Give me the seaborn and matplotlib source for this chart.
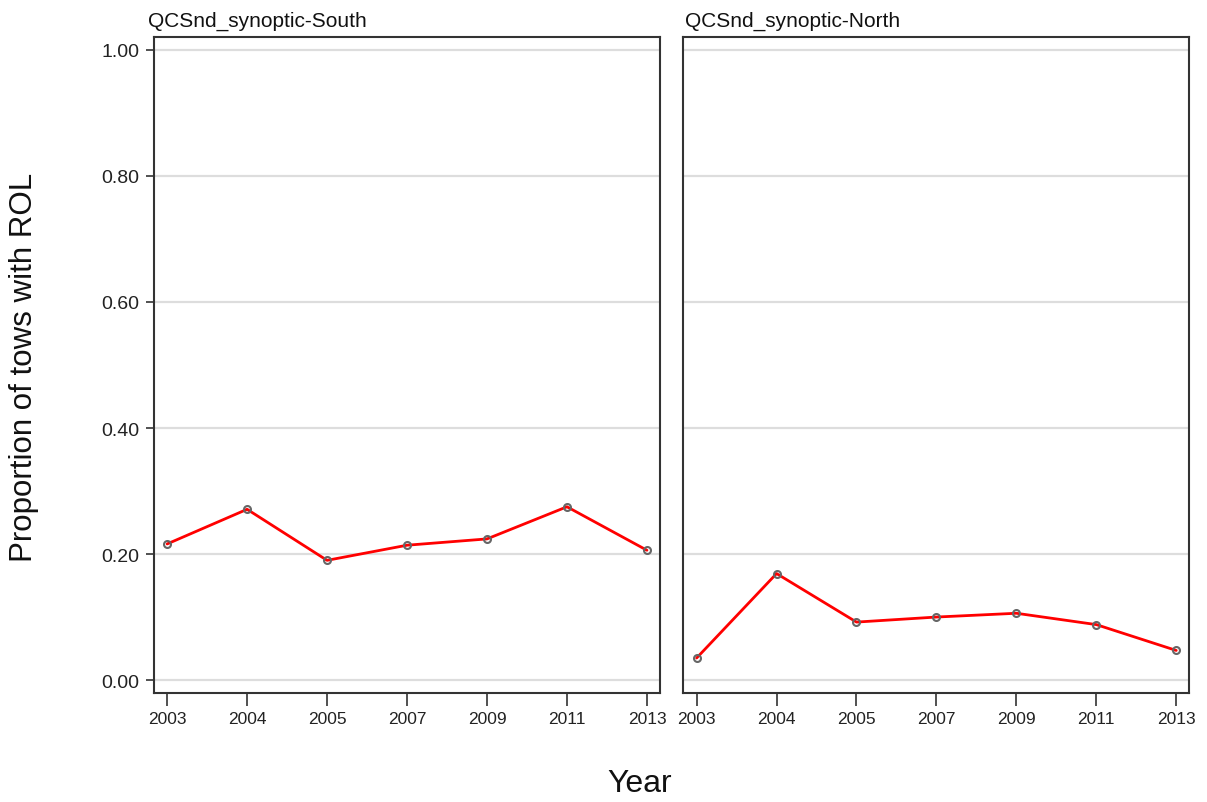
import matplotlib
matplotlib.use("Agg")
import matplotlib.pyplot as plt
import seaborn as sns
import pandas as pd

years = ["2003", "2004", "2005", "2007", "2009", "2011", "2013"]
south = [0.216, 0.271, 0.190, 0.214, 0.224, 0.275, 0.206]
north = [0.035, 0.169, 0.092, 0.100, 0.106, 0.088, 0.047]
panels = ["QCSnd_synoptic-South", "QCSnd_synoptic-North"]
yticks = [0.0, 0.2, 0.4, 0.6, 0.8, 1.0]

sns.set_theme(style="white")
plt.rcParams["font.family"] = ["Liberation Sans", "DejaVu Sans"]

fig = plt.figure(figsize=(12.07, 8.03), dpi=100)
ax_pos = [[0.1272, 0.1357, 0.4194, 0.817], [0.5659, 0.1357, 0.4192, 0.817]]

for i, (name, vals) in enumerate(zip(panels, [south, north])):
    ax = fig.add_axes(ax_pos[i])
    df = pd.DataFrame({"Year": years, "prop": vals})
    for yv in yticks:
        ax.axhline(yv, color="#dddddd", lw=1.6, zorder=0)
    sns.lineplot(data=df, x="Year", y="prop", sort=False, ax=ax, color="red",
                 lw=2.0, marker="o", markersize=5, markerfacecolor="none",
                 markeredgecolor="#666666", markeredgewidth=1.5, zorder=3)
    ax.set_xlim(-0.17, 6.16)
    ax.set_ylim(-0.0206, 1.0206)
    ax.set_xticks(range(len(years)))
    ax.set_xticklabels(years, fontsize=12.5)
    ax.set_xlabel("")
    ax.set_ylabel("")
    for s in ax.spines.values():
        s.set_color("#333333")
        s.set_linewidth(1.5)
    ax.tick_params(axis="x", bottom=True, length=9, width=1.2, color="#333333",
                   pad=4, labelcolor="#222222")
    if i == 0:
        ax.set_yticks(yticks)
        ax.set_yticklabels([f"{v:.2f}" for v in yticks], fontsize=14)
        ax.tick_params(axis="y", left=True, length=6, width=1.2, color="#333333",
                       pad=4, labelcolor="#222222")
    else:
        ax.set_yticks(yticks)
        ax.set_yticklabels([])
        ax.tick_params(axis="y", left=False)
    ax.grid(False)
    x0 = ax_pos[i][0] - (0.0045 if i == 0 else -0.0015)
    fig.text(x0, 0.974, name, fontsize=15, ha="left", va="center", color="#111111")

fig.text(0.020, 0.543, "Proportion of tows with ROL", rotation=90, fontsize=22.5,
         ha="center", va="center", color="#111111")
fig.text(0.530, 0.024, "Year", fontsize=23, ha="center", va="center", color="#111111")

fig.savefig("out.png", dpi=100)
